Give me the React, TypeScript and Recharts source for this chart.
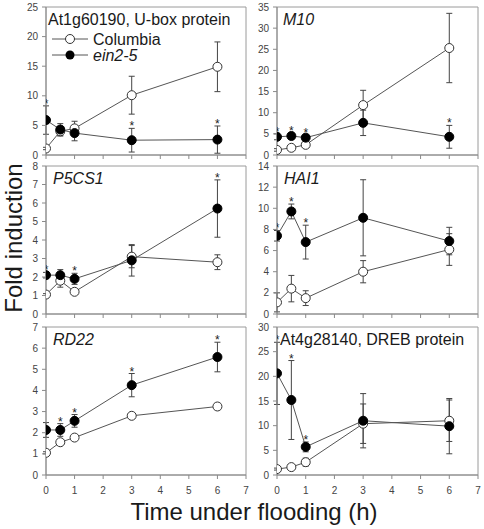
import React from 'react';
import { LineChart, Line, XAxis, YAxis, ErrorBar, ReferenceArea } from 'recharts';

const TIMES = [0, 0.5, 1, 3, 6];
const X_TICKS = [0, 1, 2, 3, 4, 5, 6, 7];

// At1g60190, U-box protein
const UBOX_COL = [1.1, 4.0, 4.5, 10.1, 14.9];
const UBOX_COL_ERR = [0.2, 0.8, 1.2, 3.2, 4.2];
const UBOX_EIN = [5.9, 4.3, 3.7, 2.5, 2.6];
const UBOX_EIN_ERR = [2.4, 1.0, 1.3, 2.0, 2.3];
const UBOX_SIG = [true, false, false, true, true];
const UBOX_TICKS = [0, 5, 10, 15, 20, 25];

// M10
const M10_COL = [1.2, 1.7, 2.4, 11.8, 25.3];
const M10_COL_ERR = [0.3, 0.3, 0.4, 3.5, 8.2];
const M10_EIN = [4.3, 4.5, 4.1, 7.6, 4.3];
const M10_EIN_ERR = [0.7, 0.7, 0.6, 3.0, 2.7];
const M10_SIG = [true, true, true, false, true];
const M10_TICKS = [0, 5, 10, 15, 20, 25, 30, 35];

// P5CS1
const P5CS1_COL = [1.05, 1.8, 1.2, 3.1, 2.8];
const P5CS1_COL_ERR = [0.05, 0.35, 0.1, 0.6, 0.4];
const P5CS1_EIN = [2.1, 2.1, 1.9, 2.9, 5.7];
const P5CS1_EIN_ERR = [0.15, 0.3, 0.3, 0.85, 1.55];
const P5CS1_SIG = [true, false, true, false, true];
const P5CS1_TICKS = [0, 1, 2, 3, 4, 5, 6, 7, 8];

// HAI1
const HAI1_COL = [1.1, 2.4, 1.5, 4.0, 6.1];
const HAI1_COL_ERR = [0.9, 1.25, 0.7, 1.05, 1.5];
const HAI1_EIN = [7.4, 9.7, 6.8, 9.1, 6.9];
const HAI1_EIN_ERR = [0.5, 0.7, 1.6, 3.6, 1.3];
const HAI1_SIG = [true, true, true, false, false];
const HAI1_TICKS = [0, 2, 4, 6, 8, 10, 12, 14];

// RD22
const RD22_COL = [1.05, 1.55, 1.77, 2.8, 3.24];
const RD22_COL_ERR = [0.05, 0.1, 0.1, 0.1, 0.15];
const RD22_EIN = [2.13, 2.13, 2.56, 4.25, 5.58];
const RD22_EIN_ERR = [0.35, 0.3, 0.3, 0.55, 0.7];
const RD22_SIG = [false, true, true, true, true];
const RD22_TICKS = [0, 1, 2, 3, 4, 5, 6, 7];

// At4g28140, DREB protein
const DREB_COL = [1.2, 1.6, 2.6, 10.4, 11.0];
const DREB_COL_ERR = [0.2, 0.3, 0.8, 4.0, 4.2];
const DREB_EIN = [20.6, 15.2, 5.7, 11.0, 9.9];
const DREB_EIN_ERR = [6.3, 8.0, 1.0, 5.5, 5.6];
const DREB_SIG = [true, true, true, false, false];
const DREB_TICKS = [0, 5, 10, 15, 20, 25, 30];

const FONT = '"Liberation Sans", Arial, sans-serif';
const AXIS_GREY = '#8a8a8a';
const LINE_GREY = '#555';

const COL_LEFT = [0, 240];
const AXIS_W = [46, 37];
const PLOT_W = [200, 201];
const ROW_TOP = [7, 166, 327];
const PLOT_H = 148;
const TOP_M = 5;

const PANELS = [
  { title: 'At1g60190, U-box protein', italic: false, dx: 2, c: 0, r: 0, ticks: UBOX_TICKS, col: UBOX_COL, colErr: UBOX_COL_ERR, ein: UBOX_EIN, einErr: UBOX_EIN_ERR, sig: UBOX_SIG },
  { title: 'M10', italic: true, dx: 6, c: 1, r: 0, ticks: M10_TICKS, col: M10_COL, colErr: M10_COL_ERR, ein: M10_EIN, einErr: M10_EIN_ERR, sig: M10_SIG },
  { title: 'P5CS1', italic: true, dx: 7, c: 0, r: 1, ticks: P5CS1_TICKS, col: P5CS1_COL, colErr: P5CS1_COL_ERR, ein: P5CS1_EIN, einErr: P5CS1_EIN_ERR, sig: P5CS1_SIG },
  { title: 'HAI1', italic: true, dx: 7, c: 1, r: 1, ticks: HAI1_TICKS, col: HAI1_COL, colErr: HAI1_COL_ERR, ein: HAI1_EIN, einErr: HAI1_EIN_ERR, sig: HAI1_SIG },
  { title: 'RD22', italic: true, dx: 7, c: 0, r: 2, ticks: RD22_TICKS, col: RD22_COL, colErr: RD22_COL_ERR, ein: RD22_EIN, einErr: RD22_EIN_ERR, sig: RD22_SIG },
  { title: 'At4g28140, DREB protein', italic: false, dx: 3, c: 1, r: 2, ticks: DREB_TICKS, col: DREB_COL, colErr: DREB_COL_ERR, ein: DREB_EIN, einErr: DREB_EIN_ERR, sig: DREB_SIG },
];

// star sits just above the top of the ein2-5 error bar
const StarDot = (props: any) => {
  const { cx, cy, value } = props;
  if (value == null || cx == null || cy == null) return <g key={props.index} />;
  return (
    <text key={props.index} x={cx} y={cy + 2} textAnchor="middle" fontSize={12} fill="#222" fontFamily={FONT}>*</text>
  );
};

function Panel({ p }: { p: (typeof PANELS)[number] }) {
  const yMax = p.ticks[p.ticks.length - 1];
  const bottomRow = p.r === 2;
  const xAxisH = bottomRow ? 30 : 10;
  const data = TIMES.map((t, i) => ({
    t,
    col: p.col[i],
    colErr: p.colErr[i],
    ein: p.ein[i],
    einErr: p.einErr[i],
    star: p.sig[i] ? p.ein[i] + p.einErr[i] : null,
  }));
  const width = AXIS_W[p.c] + PLOT_W[p.c] + 5;
  const height = TOP_M + PLOT_H + xAxisH;
  return (
    <div style={{ position: 'absolute', left: COL_LEFT[p.c], top: ROW_TOP[p.r] - TOP_M }}>
      <LineChart width={width} height={height} data={data} margin={{ top: TOP_M, right: 5, bottom: 0, left: 0 }}>
        <XAxis
          type="number"
          dataKey="t"
          domain={[0, 7]}
          ticks={X_TICKS}
          allowDataOverflow
          height={xAxisH}
          tickSize={4}
          tickMargin={8}
          tickFormatter={(v: number) => (bottomRow ? String(v) : '')}
          tick={{ fontSize: 10, fill: '#444', fontFamily: FONT }}
          axisLine={{ stroke: AXIS_GREY }}
          tickLine={{ stroke: AXIS_GREY }}
        />
        <YAxis
          type="number"
          domain={[0, yMax]}
          ticks={p.ticks}
          allowDataOverflow
          width={AXIS_W[p.c]}
          tickSize={4}
          tickMargin={4}
          tick={{ fontSize: 10, fill: '#444', fontFamily: FONT }}
          axisLine={{ stroke: AXIS_GREY }}
          tickLine={{ stroke: AXIS_GREY }}
        />
        <ReferenceArea x1={0} x2={7} y1={0} y2={yMax} fill="none" stroke="#9a9a9a" strokeWidth={1} />
        <Line
          dataKey="col"
          stroke={LINE_GREY}
          strokeWidth={1}
          dot={{ r: 4.5, fill: '#fff', stroke: '#333', strokeWidth: 1 }}
          activeDot={false}
          isAnimationActive={false}
        >
          <ErrorBar dataKey="colErr" direction="y" width={3} stroke="#444" strokeWidth={1} />
        </Line>
        <Line
          dataKey="ein"
          stroke={LINE_GREY}
          strokeWidth={1}
          dot={{ r: 4.5, fill: '#000', stroke: '#000', strokeWidth: 1 }}
          activeDot={false}
          isAnimationActive={false}
        >
          <ErrorBar dataKey="einErr" direction="y" width={3} stroke="#444" strokeWidth={1} />
        </Line>
        <Line
          dataKey="star"
          stroke="none"
          dot={StarDot}
          activeDot={false}
          isAnimationActive={false}
        />
      </LineChart>
    </div>
  );
}

export default function App() {
  return (
    <div style={{ position: 'absolute', left: 0, top: 0, width: 484, height: 529, background: '#fff', fontFamily: FONT }}>
      {PANELS.map((p) => (
        <Panel key={p.title} p={p} />
      ))}
      <svg width={484} height={529} style={{ position: 'absolute', left: 0, top: 0, pointerEvents: 'none' }} fontFamily={FONT}>
        {PANELS.map((p) => (
          <text
            key={p.title}
            x={COL_LEFT[p.c] + AXIS_W[p.c] + p.dx}
            y={ROW_TOP[p.r] + 18}
            fontSize={16}
            fontStyle={p.italic ? 'italic' : 'normal'}
            fill="#1a1a1a"
          >
            {p.title}
          </text>
        ))}
        {/* legend */}
        <line x1={52} x2={88} y1={39} y2={39} stroke={LINE_GREY} />
        <circle cx={70} cy={39} r={4.5} fill="#fff" stroke="#333" />
        <text x={93} y={45} fontSize={16} fill="#1a1a1a">Columbia</text>
        <line x1={52} x2={88} y1={55} y2={55} stroke={LINE_GREY} />
        <circle cx={70} cy={55} r={4.5} fill="#000" />
        <text x={93} y={61} fontSize={16} fontStyle="italic" fill="#1a1a1a">ein2-5</text>
        {/* axis titles */}
        <text x={254} y={520} fontSize={24} textAnchor="middle" fill="#1a1a1a">Time under flooding (h)</text>
        <text transform="translate(22,238) rotate(-90)" fontSize={24} textAnchor="middle" fill="#1a1a1a">Fold induction</text>
      </svg>
    </div>
  );
}
